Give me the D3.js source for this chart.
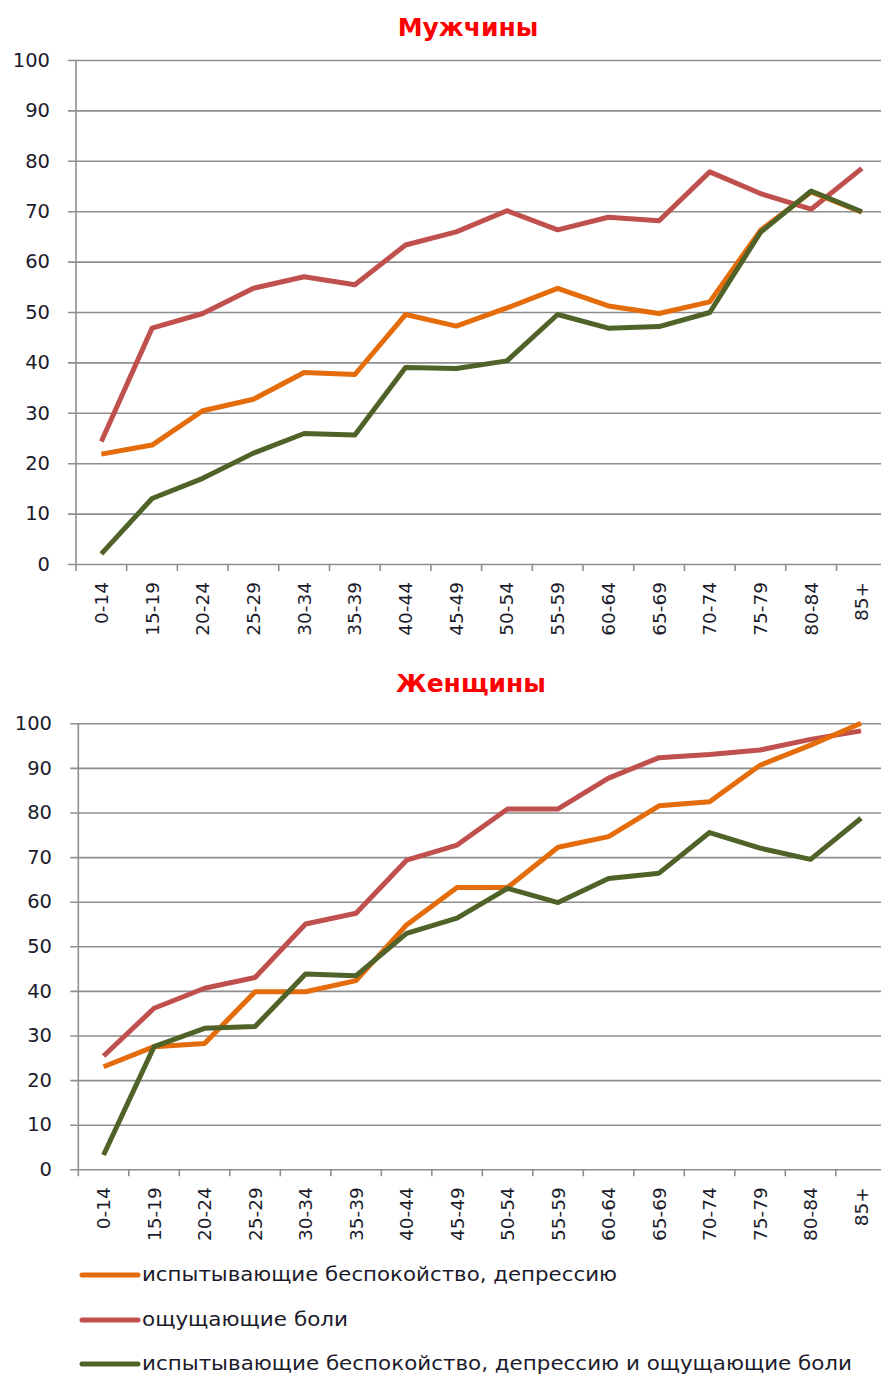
<!DOCTYPE html>
<html>
<head>
<meta charset="utf-8">
<script src="https://cdnjs.cloudflare.com/ajax/libs/d3/7.8.5/d3.min.js"></script>
<style>
  html, body { margin: 0; padding: 0; background: #fff; }
  svg { display: block; }
</style>
</head>
<body>
<div id="chart"></div>
<script>
// age groups
const ageGroups = ['0-14', '15-19', '20-24', '25-29', '30-34', '35-39', '40-44', '45-49',
  '50-54', '55-59', '60-64', '65-69', '70-74', '75-79', '80-84', '85+'];
const yTicks = [0, 10, 20, 30, 40, 50, 60, 70, 80, 90, 100];

const seriesNames = [
  'испытывающие беспокойство, депрессию',
  'ощущающие боли',
  'испытывающие беспокойство, депрессию и ощущающие боли'
];
const seriesColors = ['#E46C0A', '#C0504D', '#4F6228'];

// Мужчины
const menAnxiety = [21.8, 23.6, 30.4, 32.7, 38.0, 37.6, 49.5, 47.2, 50.8, 54.7, 51.2, 49.7, 52.0, 66.2, 73.8, 69.8];
const menPain = [24.3, 46.8, 49.7, 54.7, 57.0, 55.4, 63.3, 65.9, 70.1, 66.3, 68.8, 68.1, 77.8, 73.5, 70.4, 78.5];
const menBoth = [2.0, 13.0, 17.0, 22.0, 25.9, 25.6, 39.0, 38.8, 40.3, 49.5, 46.8, 47.1, 49.9, 65.8, 74.0, 69.9];

// Женщины
const womenAnxiety = [23.0, 27.5, 28.2, 39.8, 39.8, 42.3, 54.8, 63.2, 63.2, 72.2, 74.6, 81.5, 82.4, 90.6, 95.1, 100];
const womenPain = [25.4, 36.1, 40.6, 43.0, 55.0, 57.4, 69.3, 72.7, 80.8, 80.8, 87.7, 92.3, 93.0, 94.0, 96.4, 98.3];
const womenBoth = [3.2, 27.5, 31.6, 32.0, 43.8, 43.4, 52.9, 56.3, 63.0, 59.8, 65.2, 66.4, 75.5, 72.0, 69.5, 78.7];

const W = 881, H = 1375;
const gridColor = '#8e8e8e';
const labelColor = '#1b1b2b';

let svg = d3.select('#chart').append('svg')
  .attr('width', W)
  .attr('height', H)
  .attr('viewBox', '0 0 ' + W + ' ' + H);

function drawPanel(title, data, box) {
  let g = svg.append('g').attr('class', 'panel');

  let x = d3.scaleBand()
    .domain(ageGroups)
    .range([box.left, box.left + box.band * ageGroups.length])
    .padding(0);
  let y = d3.scaleLinear().domain([0, 100]).range([box.bottom, box.top]);

  // title
  g.append('text')
    .attr('x', box.titleX)
    .attr('y', box.titleY)
    .attr('text-anchor', 'middle')
    .attr('font-family', 'DejaVu Sans, Verdana, sans-serif')
    .attr('font-weight', 'bold')
    .attr('font-size', '25px')
    .attr('fill', '#FF0000')
    .text(title);

  // grid + y labels
  let yAxis = d3.axisLeft(y)
    .tickValues(yTicks)
    .tickSize(-(W - box.left + 8))
    .tickPadding(18)
    .tickFormat(d3.format('d'));

  let ya = g.append('g')
    .attr('class', 'axis axis--y')
    .attr('transform', 'translate(' + (box.left - 8) + ',0)')
    .call(yAxis);
  ya.select('.domain').remove();
  ya.selectAll('line')
    .attr('stroke', gridColor)
    .attr('stroke-width', 1.6)
    .attr('x1', 0)
    .attr('x2', W - box.left + 8);
  ya.selectAll('text')
    .attr('x', -(box.left - 8 - box.labelRight))
    .attr('fill', labelColor)
    .attr('font-family', 'DejaVu Sans, Verdana, sans-serif')
    .attr('font-size', '19.5px');

  // vertical axis line
  g.append('line')
    .attr('x1', box.left).attr('x2', box.left)
    .attr('y1', box.top).attr('y2', box.bottom + 7)
    .attr('stroke', gridColor)
    .attr('stroke-width', 1.6);

  // x ticks at band edges
  let edges = ageGroups.map(d => x(d)).slice(1);
  g.append('g')
    .attr('class', 'x-ticks')
    .selectAll('line')
    .data(edges)
    .enter().append('line')
      .attr('x1', d => d).attr('x2', d => d)
      .attr('y1', box.bottom).attr('y2', box.bottom + 7)
      .attr('stroke', gridColor)
      .attr('stroke-width', 1.6);

  // x labels, rotated
  g.append('g')
    .attr('class', 'x-labels')
    .selectAll('text')
    .data(ageGroups)
    .enter().append('text')
      .attr('transform', d => 'translate(' + (x(d) + x.bandwidth() / 2) + ',' + (box.bottom + 18) + ') rotate(-90)')
      .attr('text-anchor', 'end')
      .attr('dominant-baseline', 'central')
      .attr('fill', labelColor)
      .attr('font-family', 'DejaVu Sans, Verdana, sans-serif')
      .attr('font-size', '18.5px')
      .text(d => d);

  let line = d3.line()
    .x((d, i) => x(ageGroups[i]) + x.bandwidth() / 2)
    .y(d => y(d));

  // lines: pain drawn first, then anxiety, then both on top
  let order = [1, 0, 2];
  g.append('g')
    .attr('class', 'lines')
    .selectAll('path')
    .data(order)
    .enter().append('path')
      .attr('d', i => line(data[i]))
      .attr('stroke', i => seriesColors[i])
      .attr('stroke-width', 5)
      .attr('stroke-linejoin', 'round')
      .attr('stroke-linecap', 'butt')
      .attr('fill', 'none');
}

drawPanel('Мужчины', [menAnxiety, menPain, menBoth],
  {left: 76, top: 60, bottom: 564, band: 50.7, labelRight: 50, titleX: 468, titleY: 36});
drawPanel('Женщины', [womenAnxiety, womenPain, womenBoth],
  {left: 78.3, top: 723.3, bottom: 1169.3, band: 50.5, labelRight: 52, titleX: 471, titleY: 692});

// Legend
let legendRows = [1275, 1320, 1364];
let legendWidths = [475, 206, 710];
let legend = svg.append('g').attr('class', 'legends');
let items = legend.selectAll('g')
  .data(seriesNames)
  .enter().append('g')
    .attr('transform', (d, i) => 'translate(0,' + legendRows[i] + ')');

items.append('line')
  .attr('x1', 82).attr('x2', 138)
  .attr('y1', 0).attr('y2', 0)
  .attr('stroke', (d, i) => seriesColors[i])
  .attr('stroke-width', 5)
  .attr('stroke-linecap', 'round');

items.append('text')
  .attr('x', 142)
  .attr('y', 6)
  .attr('font-family', 'DejaVu Sans, Verdana, sans-serif')
  .attr('font-size', '19px')
  .attr('fill', labelColor)
  .attr('textLength', (d, i) => legendWidths[i])
  .attr('lengthAdjust', 'spacingAndGlyphs')
  .text(d => d);
</script>
</body>
</html>
